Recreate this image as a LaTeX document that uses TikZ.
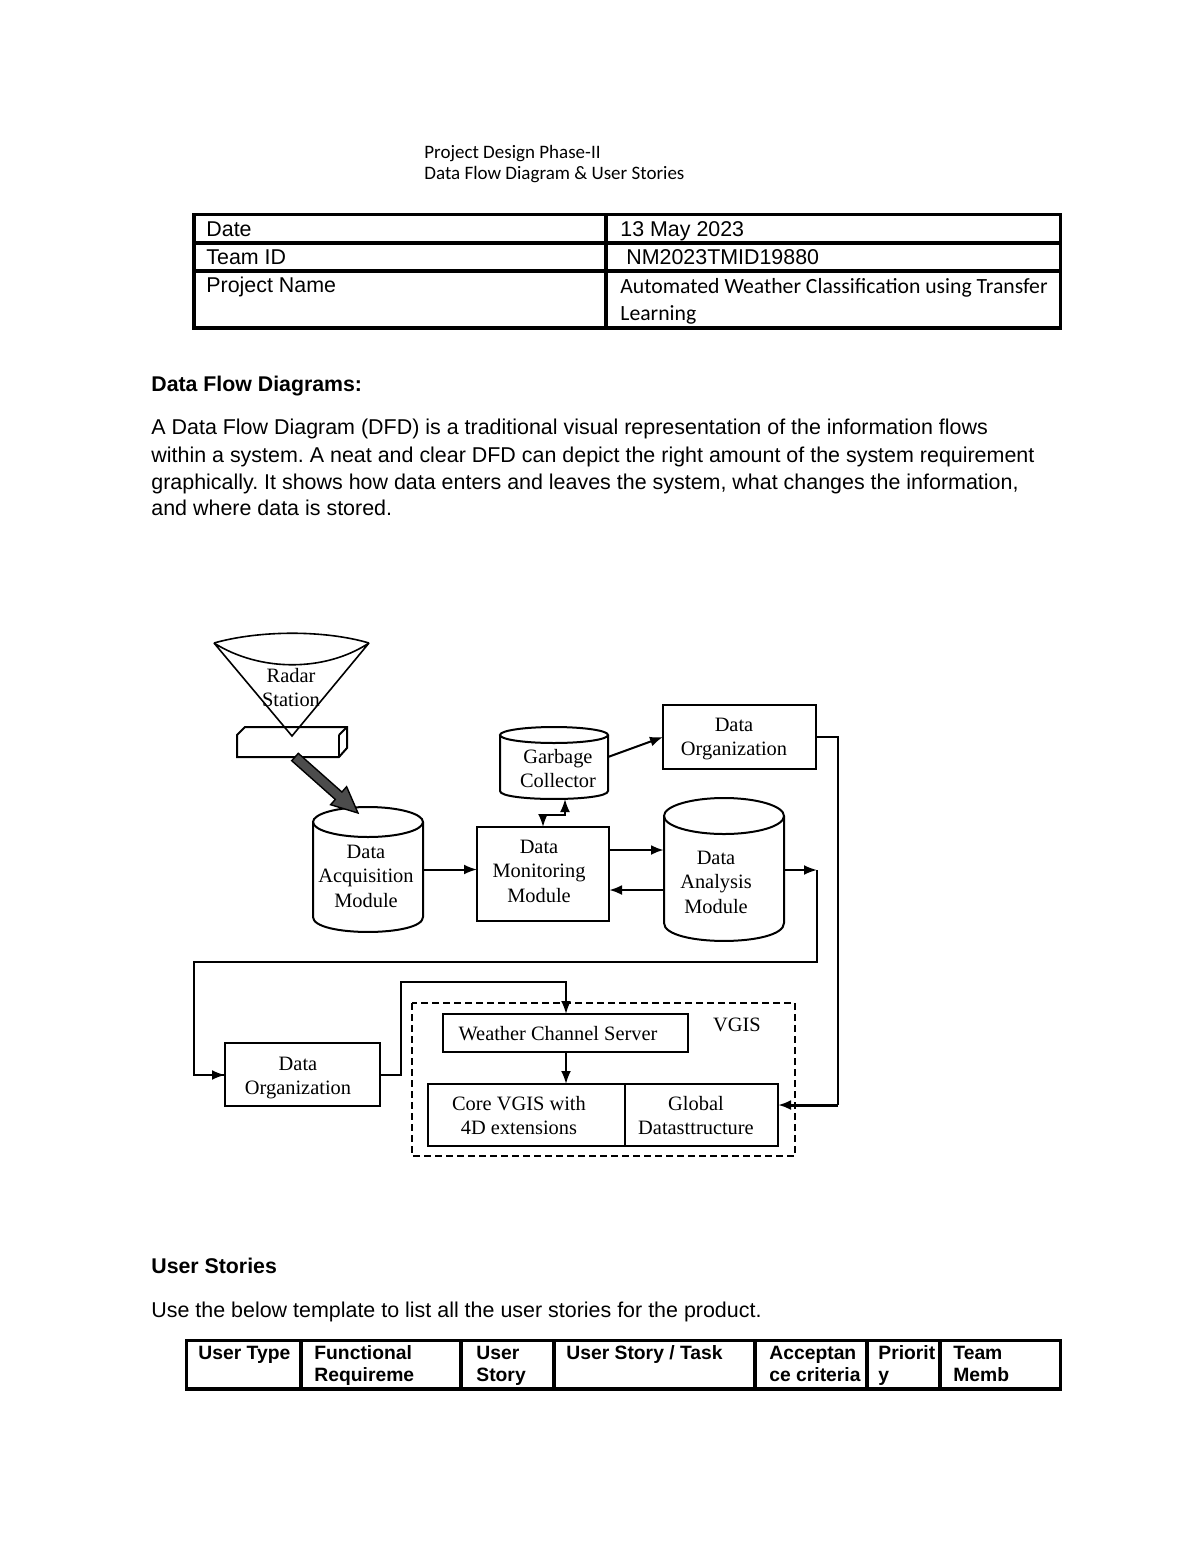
\documentclass[tikz,border=0pt]{standalone}
\usepackage{fontspec}
\usetikzlibrary{arrows.meta}
\setmainfont{Liberation Serif}
\newfontfamily\arialf{Liberation Sans}
\newfontfamily\calf{Carlito}
\frenchspacing
\tikzset{
  x=0.5pt,y=-0.5pt,
  >={Latex[length=6.5pt,width=5pt]},
  doctext/.style={anchor=base west,inner sep=0pt,font=\arialf\fontsize{10.72}{12}\selectfont},
  boldtext/.style={anchor=base west,inner sep=0pt,font=\arialf\bfseries\fontsize{10.65}{12}\selectfont},
  celltext/.style={anchor=base west,inner sep=0pt,font=\arialf\fontsize{10.7}{12}\selectfont},
  headcell/.style={anchor=base west,inner sep=0pt,font=\arialf\bfseries\fontsize{9.65}{12}\selectfont},
  caltext/.style={anchor=base west,inner sep=0pt,font=\calf\fontsize{10.85}{12}\selectfont},
  titletext/.style={anchor=base west,inner sep=0pt,font=\calf\fontsize{9.5}{12}\selectfont},
  tabline/.style={line width=1.75pt,black},
  diagline/.style={line width=1pt,black},
  flow/.style={line width=1pt,black,->},
  flowthick/.style={line width=1.4pt,black,->},
  dtext/.style={align=center,inner sep=0pt,font=\fontsize{10.2}{12.25}\selectfont},
  boxnode/.style={draw,line width=1pt,inner sep=0pt,outer sep=0pt,anchor=north west},
  anchorbox/.style={inner sep=0pt,outer sep=0pt,anchor=north west},
}
% name, x1, x2, top-centre y, bottom-centre y, ry
\newcommand{\cylshape}[6]{%
  \pgfmathsetmacro{\cxm}{(#2+#3)/2}%
  \pgfmathsetmacro{\crx}{(#3-#2)/2}%
  \pgfmathsetmacro{\cty}{#4-#6}%
  \pgfmathsetmacro{\cby}{#5+#6}%
  \pgfmathsetmacro{\cw}{(#3-#2)*0.5}%
  \pgfmathsetmacro{\ch}{(\cby-\cty)*0.5}%
  \node[anchorbox,minimum width=\cw pt,minimum height=\ch pt] (#1) at (#2,\cty) {};
  \draw[diagline] (\cxm,#4) ellipse [x radius=\crx,y radius=#6];
  \draw[diagline] (#2,#4) -- (#2,#5) .. controls (#2,#5+#6*1.33) and (#3,#5+#6*1.33) .. (#3,#5) -- (#3,#4);
}
\begin{document}
\begin{tikzpicture}
\path[use as bounding box,fill=white] (0,0) rectangle (1200,1553);

% title
\node[titletext] (t1) at (424,158) {Project Design Phase-II};
\node[titletext] (t2) at (424,179) {Data Flow Diagram \& User Stories};

% top table
\draw[tabline] (194,214.5) rectangle (1060.5,328);
\draw[tabline] (194,243) -- (1060.5,243);
\draw[tabline] (194,271) -- (1060.5,271);
\draw[tabline] (606,214.5) -- (606,328);
\node[celltext] (c1) at (206,236) {Date};
\node[celltext] (c2) at (620,236) {13 May 2023};
\node[celltext] (c3) at (206,264) {Team ID};
\node[celltext] (c4) at (626,264) {NM2023TMID19880};
\node[celltext] (c5) at (206,292) {Project Name};
\node[caltext] (c6) at (620,293) {Automated Weather Classification using Transfer};
\node[caltext] (c7) at (620,320) {Learning};

% paragraph
\node[boldtext] (h1) at (151,391) {Data Flow Diagrams:};
\node[doctext] (p1) at (151,434) {A Data Flow Diagram (DFD) is a traditional visual representation of the information flows};
\node[doctext] (p2) at (151,462) {within a system. A neat and clear DFD can depict the right amount of the system requirement};
\node[doctext] (p3) at (151,489) {graphically. It shows how data enters and leaves the system, what changes the information,};
\node[doctext] (p4) at (151,515) {and where data is stored.};

% radar station
\draw[diagline] (245,727) -- (347,727) -- (347,748) -- (339,757) -- (237,757) -- (237,735) -- cycle;
\draw[diagline] (339,735) -- (339,757);
\draw[diagline] (339,735) -- (347,727);
\node[anchorbox,minimum width=55pt,minimum height=15pt] (base) at (237,727) {};
\draw[line width=0.8pt] (214,643) .. controls (260,630) and (325,630) .. (369,643);
\draw[line width=0.8pt,miter limit=2] (214,643) .. controls (260,672) and (325,672) .. (369,643) -- (292,736) -- cycle;
\node[dtext] (radar) at (291,687.5) {Radar\\Station};

% cylinders
\cylshape{dam}{313}{423}{822}{917}{15}
\node[dtext] (damt) at (366,876) {Data\\Acquisition\\Module};
\cylshape{gc}{500}{608}{735}{791}{8}
\node[dtext] (gct) at (558,768.5) {Garbage\\Collector};
\cylshape{dan}{664}{784}{816}{923}{18}
\node[dtext] (dant) at (716,882) {Data\\Analysis\\Module};

% boxes
\node[boxnode,minimum width=66pt,minimum height=47pt] (mon) at (477,827) {};
\node[dtext] (mont) at (539,871) {Data\\Monitoring\\Module};
\node[boxnode,line width=0.8pt,minimum width=76.5pt,minimum height=32pt] (org1) at (663,705) {};
\node[dtext] (org1t) at (734,739) {Data\hspace{3pt}\\Organization};
\node[boxnode,line width=0.8pt,minimum width=77.5pt,minimum height=31.5pt] (org2) at (225,1043) {};
\node[dtext] (org2t) at (298,1078) {Data\hspace{3pt}\\Organization};

% thick arrow
\coordinate (thicktail) at (295,757);
\fill[black!70,draw=black,line width=0.7pt] (291.7,760.7) -- (335.3,799.4) -- (330.6,804.7) -- (358,813) -- (346.6,786.7) -- (341.9,792) -- (298.3,753.3) -- cycle;

% VGIS
\draw[line width=1pt,dash pattern=on 3.5pt off 2pt] (412,1003) rectangle (795,1156);
\node[boxnode,minimum width=122.5pt,minimum height=19pt] (wcs) at (443,1014) {};
\node[dtext] (wcst) at (558,1034) {Weather Channel Server};
\node[dtext] (vgis) at (737,1025) {VGIS};
\node[boxnode,minimum width=98.5pt,minimum height=31pt] (core) at (428,1084) {};
\node[boxnode,minimum width=76.5pt,minimum height=31pt] (glob) at (625,1084) {};
\node[dtext] (coret) at (519,1115.5) {Core VGIS with\\4D extensions};
\node[dtext] (globt) at (696,1115.5) {Global\\Datasttructure};

% connectors
\draw[flow] (dam.east) -- (dam.east -| mon.west);
\draw[flow] (gc.east |- 0,757) -- (org1.west |- 0,737);
\coordinate (gcm) at (543,815);
\coordinate (gcn) at (565,815);
\draw[flow,<->] (mon.north -| gcm) -- (gcm) -- (gcn) -- (gc.south -| gcn);
\draw[flowthick] (mon.east |- 0,850) -- (dan.west |- 0,850);
\draw[flowthick] (dan.west |- 0,890) -- (mon.east |- 0,890);
\coordinate (r1) at (817,870);
\coordinate (r2) at (817,962);
\coordinate (r3) at (194,962);
\coordinate (r4) at (194,1075);
\draw[flow] (dan.east |- r1) -- (r1);
\draw[line width=1.2pt] (r1) -- (r2) -- (r3) -- (r4) -- (r4 -| org2.west);
\draw[flow] (r4) ++(10,0) -- (r4 -| org2.west);
\coordinate (s1) at (401,1075);
\coordinate (s2) at (401,982);
\coordinate (s3) at (566,982);
\draw[flow] (org2.east |- s1) -- (s1) -- (s2) -- (s3) -- (s3 |- wcs.north);
\draw[flow] (s3 |- wcs.south) -- (s3 |- core.north);
\coordinate (q1) at (838,737);
\coordinate (q2) at (838,1105);
\draw[line width=1pt] (org1.east |- q1) -- (q1) -- (q2);
\draw[line width=1.5pt,->] (q2) -- (glob.east |- q2);

% user stories
\node[boldtext] (h2) at (151,1273) {User Stories};
\node[doctext] (p5) at (151,1317) {Use the below template to list all the user stories for the product.};

\draw[tabline] (186.5,1340.5) rectangle (1060.5,1389);
\foreach \vx in {301,461,554,755,867,940} \draw[tabline] (\vx,1340.5) -- (\vx,1389);
\node[headcell] (u1) at (198,1359) {User Type};
\node[headcell] (u2) at (314,1359) {Functional};
\node[headcell] (u3) at (314,1381) {Requireme};
\node[headcell] (u4) at (476,1359) {User};
\node[headcell] (u5) at (476,1381) {Story};
\node[headcell] (u6) at (566,1359) {User Story / Task};
\node[headcell] (u7) at (769,1359) {Acceptan};
\node[headcell] (u8) at (769,1381) {ce criteria};
\node[headcell] (u9) at (878,1359) {Priorit};
\node[headcell] (u10) at (878,1381) {y};
\node[headcell] (u11) at (953,1359) {Team};
\node[headcell] (u12) at (953,1381) {Memb};
\end{tikzpicture}
\end{document}
